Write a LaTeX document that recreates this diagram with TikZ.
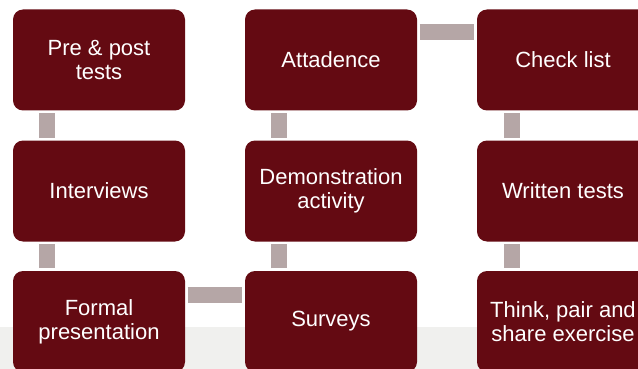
\documentclass[tikz,border=0pt]{standalone}
\usepackage{fontspec}
\setmainfont{Liberation Sans}
\usepackage{tikz}
\usepackage{xcolor}
\definecolor{boxred}{RGB}{100,10,18}
\definecolor{linkgray}{RGB}{181,166,166}
\definecolor{bandgray}{RGB}{240,240,238}
\tikzstyle{box}=[fill=boxred,rounded corners=10pt,minimum width=172pt,minimum height=101pt,inner sep=0,text=white,align=center,font=\fontsize{22}{24}\selectfont]
\tikzstyle{link}=[draw=linkgray,line width=16pt,shorten >=2.5pt,shorten <=2.5pt]

\begin{document}
\begin{tikzpicture}[x=1pt,y=-1pt]
    \useasboundingbox (0,0) rectangle (638,369);
    \fill[bandgray] (0,327) rectangle (638,369);

    % first column
    \node[box] (prepost) at (99,60) {Pre \& post\\tests};
    \node[box] (interv) at (99,191) {Interviews};
    \node[box] (formal) at (99,321.5) {Formal\\presentation};

    % second column
    \node[box] (attend) at (331,60) {Attadence};
    \node[box] (demo) at (331,191) {Demonstration\\activity};
    \node[box] (survey) at (331,321.5) {Surveys};

    % third column
    \node[box] (check) at (563,60) {Check list};
    \node[box] (written) at (563,191) {Written tests};
    \node[box] (think) at (563,321.5) {Think, pair and\\share exercise};

    % links
    \draw[link] ([xshift=34pt]prepost.south west)--([xshift=34pt]interv.north west);
    \draw[link] ([xshift=34pt]interv.south west)--([xshift=34pt]formal.north west);
    \draw[link] ([yshift=-24pt]formal.north east)--([yshift=-24pt]survey.north west);
    \draw[link] ([xshift=34pt]survey.north west)--([xshift=34pt]demo.south west);
    \draw[link] ([xshift=34pt]demo.north west)--([xshift=34pt]attend.south west);
    \draw[link] ([yshift=-23pt]attend.north east)--([yshift=-23pt]check.north west);
    \draw[link] ([xshift=35pt]check.south west)--([xshift=35pt]written.north west);
    \draw[link] ([xshift=35pt]written.south west)--([xshift=35pt]think.north west);

    \end{tikzpicture}
\end{document}
